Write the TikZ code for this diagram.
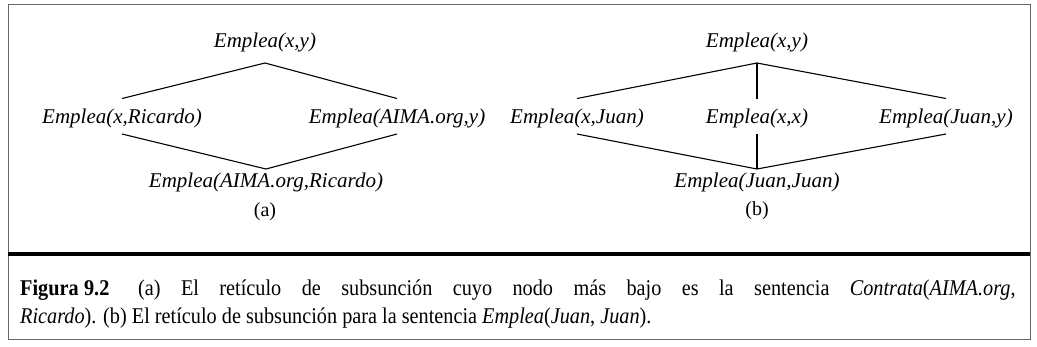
\documentclass[tikz,border=0pt]{standalone}
\usepackage{fontspec}
\setmainfont{Liberation Serif}
\usetikzlibrary{calc}
\begin{document}
\begin{tikzpicture}[x=1pt,y=-1pt,
  term/.style={font=\fontsize{21}{25}\selectfont\itshape, inner sep=0pt,
    text height=14pt, text depth=4.6pt},
  sub/.style={font=\fontsize{20}{24}\selectfont, inner sep=0pt},
  edge/.style={line width=1.1pt, black},
  captext/.style={font=\fontsize{22.5}{26}\selectfont, inner sep=0pt, anchor=base west}]
\useasboundingbox (0,0) rectangle (1037,346);
\fill[white] (0,0) rectangle (1037,346);
% frame
\draw[line width=1pt, black!60] (8,4) rectangle (1030,339);
\draw[line width=4pt, black] (8,254) -- (1030,254);
% (a)
\node[term] (aT) at (265,43) {Emplea(x,y)};
\node[term] (aL) at (122,119) {Emplea(x,Ricardo)};
\node[term] (aR) at (397,119) {Emplea(AIMA.org,y)};
\node[term] (aB) at (266,183) {Emplea(AIMA.org,Ricardo)};
\node[sub] (aLab) at (265,212) {(a)};
\coordinate (aTop) at ([yshift=-10.5pt]aT.south);
\coordinate (aBot) at ([yshift=4.5pt]aB.north);
\draw[edge] ([yshift=11pt]aL.north) -- (aTop) -- ([yshift=11pt]aR.north);
\draw[edge] ([yshift=-5.5pt]aL.south) -- (aBot) -- ([yshift=-5.5pt]aR.south);
% (b)
\node[term] (bT) at (757,43) {Emplea(x,y)};
\node[term] (bL) at (577,119) {Emplea(x,Juan)};
\node[term] (bM) at (757,119) {Emplea(x,x)};
\node[term] (bR) at (946,119) {Emplea(Juan,y)};
\node[term] (bB) at (757,183) {Emplea(Juan,Juan)};
\node[sub] (bLab) at (757,211) {(b)};
\coordinate (bTop) at ([yshift=-10.5pt]bT.south);
\coordinate (bBot) at ([yshift=4.5pt]bB.north);
\draw[edge] ([yshift=11pt]bL.north) -- (bTop) -- ([yshift=11pt]bR.north);
\draw[edge] (bTop) -- ([yshift=11pt]bM.north);
\draw[edge] ([yshift=-5.5pt]bL.south) -- (bBot) -- ([yshift=-5.5pt]bR.south);
\draw[edge] ([yshift=-5.5pt]bM.south) -- (bBot);
% caption
\node[captext] (c1) at (20,295) {\scalebox{0.9}[1]{\makebox[1106pt][s]{\textbf{Figura\hspace{6pt}9.2}\hspace{32pt}(a) El retículo de subsunción cuyo nodo más bajo es la sentencia \textit{Contrata}(\textit{AIMA.org},}}};
\node[captext] (c2) at (20,323) {\scalebox{0.9}[1]{\textit{Ricardo}). (b) El retículo de subsunción para la sentencia \textit{Emplea}(\textit{Juan}, \textit{Juan}).}};
\end{tikzpicture}
\end{document}
